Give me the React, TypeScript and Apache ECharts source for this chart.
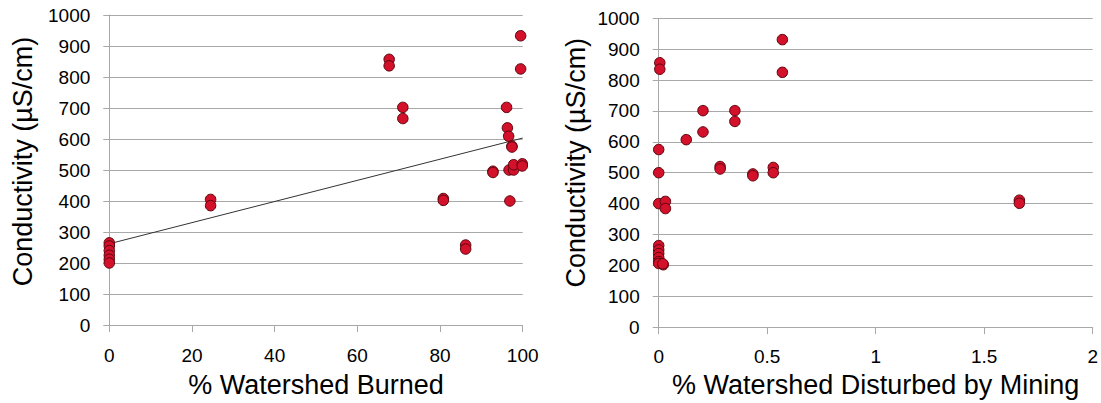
import React, { useEffect, useRef } from "react";
import * as echarts from "echarts";

const burnedX = [0, 0, 0, 0, 0, 0, 24.5, 24.5, 67.7, 67.7, 71, 71, 80.8, 80.8, 86.2, 86.2, 92.8, 92.8, 96.1, 96.3, 96.6, 97.4, 97.4, 96.7, 97.8, 97.8, 96.9, 99.5, 99.5, 99.9, 99.9];
const burnedY = [265, 255, 240, 225, 212, 200, 405, 385, 857, 836, 702, 666, 408, 402, 258, 245, 496, 492, 702, 636, 609, 577, 574, 500, 500, 517, 400, 933, 826, 520, 513];

const miningX = [0.005, 0.005, 0.57, 0.57, 0.204, 0.351, 0.351, 0.127, 0.204, 0, 0, 0.283, 0.283, 0.434, 0.434, 0.528, 0.528, 1.662, 1.662, 0, 0.031, 0.031, 0, 0, 0, 0, 0, 0, 0.021, 0.019];
const miningY = [856, 835, 931, 825, 701, 701, 666, 607, 632, 575, 500, 520, 512, 496, 490, 517, 500, 411, 401, 400, 407, 384, 264, 250, 238, 225, 212, 206, 202, 205];

const trendX = [0, 100];
const trendY = [262, 603];

const leftXTitle = "% Watershed Burned";
const rightXTitle = "% Watershed Disturbed by Mining";
const yTitle = "Conductivity (µS/cm)";

const FONT = "'Liberation Sans', Arial, sans-serif";
const GRID_COLOR = "#a8a8a8";

export default function App() {
  const ref = useRef<HTMLDivElement>(null);
  useEffect(() => {
    if (!ref.current) return;
    const chart = echarts.init(ref.current, undefined, { renderer: "svg" });
    const yAxisBase = (gridIndex: number, nameGap: number, shift: number) => ({
      type: "value",
      gridIndex,
      min: 0,
      max: 1000,
      interval: 100,
      name: yTitle,
      nameLocation: "middle",
      nameGap,
      nameTextStyle: { fontSize: 27, color: "#000", fontFamily: FONT, padding: [0, 0, 0, shift] },
      axisLine: { show: true, lineStyle: { color: GRID_COLOR, width: 1 } },
      axisTick: { show: true, length: 6, lineStyle: { color: GRID_COLOR } },
      axisLabel: {
        fontSize: 19,
        color: "#000",
        fontFamily: FONT,
        margin: 19,
        formatter: (v: number) => String(v),
      },
      splitLine: { show: true, lineStyle: { color: GRID_COLOR, width: 1 } },
    });
    const xAxisBase = (gridIndex: number, max: number, interval: number, name: string, nameGap: number, margin: number) => ({
      type: "value",
      gridIndex,
      min: 0,
      max,
      interval,
      name,
      nameLocation: "middle",
      nameGap,
      nameTextStyle: { fontSize: 27, color: "#000", fontFamily: FONT },
      axisLine: { show: true, onZero: false, lineStyle: { color: GRID_COLOR, width: 1 } },
      axisTick: { show: true, length: 7, lineStyle: { color: GRID_COLOR } },
      axisLabel: { fontSize: 19, color: "#000", fontFamily: FONT, margin, formatter: (v: number) => String(v) },
      splitLine: { show: false },
    });
    const marker = {
      symbol: "circle",
      symbolSize: 10.5,
      itemStyle: { color: "#d4112a", borderColor: "#5c0610", borderWidth: 1, opacity: 1 },
    };
    chart.setOption({
      animation: false,
      backgroundColor: "#fff",
      grid: [
        { left: 109.3, top: 15, width: 413.4, height: 310.7 },
        { left: 658.7, top: 18.3, width: 436.3, height: 312.7 },
      ],
      xAxis: [
        xAxisBase(0, 100, 20, leftXTitle, 46, 21),
        xAxisBase(1, 2, 0.5, rightXTitle, 41, 20),
      ],
      yAxis: [yAxisBase(0, 73, 17), yAxisBase(1, 69, 20)],
      series: [
        {
          type: "line",
          xAxisIndex: 0,
          yAxisIndex: 0,
          data: trendX.map((x, i) => [x, trendY[i]]),
          showSymbol: false,
          symbol: "none",
          lineStyle: { color: "#333", width: 1 },
          z: 1,
        },
        {
          type: "scatter",
          xAxisIndex: 0,
          yAxisIndex: 0,
          data: burnedX.map((x, i) => [x, burnedY[i]]),
          ...marker,
          z: 2,
        },
        {
          type: "scatter",
          xAxisIndex: 1,
          yAxisIndex: 1,
          data: miningX.map((x, i) => [x, miningY[i]]),
          ...marker,
          z: 2,
        },
      ],
    });
    return () => chart.dispose();
  }, []);
  return (
    <div
      ref={ref}
      style={{ position: "fixed", left: 0, top: 0, width: 1101, height: 403, background: "#fff" }}
    />
  );
}
